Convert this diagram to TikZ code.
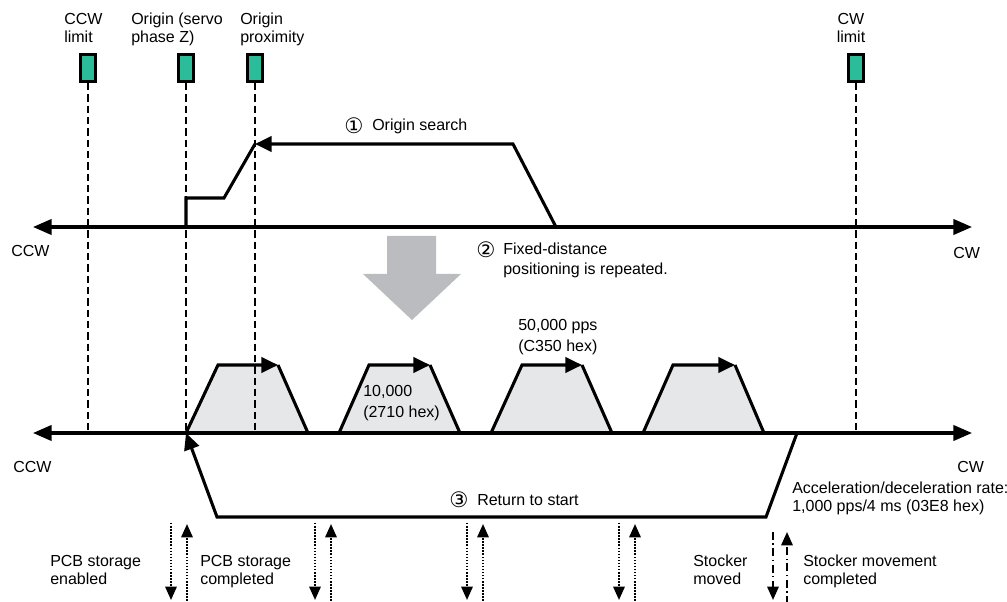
\documentclass[tikz,border=0pt]{standalone}
\usepackage{fontspec}
\setmainfont{Liberation Sans}
\newfontfamily\symfont{DejaVu Sans}
\usetikzlibrary{arrows.meta}
\definecolor{sensor}{HTML}{2BBD99}
\definecolor{bigarrow}{HTML}{BBBCBF}
\definecolor{trap}{HTML}{E6E7E8}
\newcommand\lefttab[1]{\begin{tabular}[t]{@{}l@{}}#1\end{tabular}}
\newcommand\centtab[1]{\begin{tabular}[t]{@{}c@{}}#1\end{tabular}}
\begin{document}
\begin{tikzpicture}[x=0.75pt,y=-0.75pt,
  lbl/.style={anchor=base west,inner sep=0pt,font=\fontsize{12}{13.5}\selectfont},
  circnum/.style={inner sep=0pt,font=\symfont\fontsize{16}{16}\selectfont},
  sensorbox/.style={draw,line width=1.9pt,fill=sensor,minimum width=11pt,minimum height=20.5pt,inner sep=0pt},
  limline/.style={line width=2.1pt,dash pattern=on 5.5pt off 3pt},
  axisline/.style={line width=2.3pt,{Triangle[length=14pt,width=11.5pt]}-{Triangle[length=14pt,width=11.5pt]}},
  prof/.style={line width=2.3pt,line join=miter},
  tip/.style={-{Triangle[length=12.5pt,width=11.5pt]}},
  sigdot/.style={line width=1.6pt,dash pattern=on 1.1pt off 1.2pt,-{Triangle[length=10pt,width=8.5pt]}},
  sigdd/.style={line width=1.6pt,dash pattern=on 6pt off 2.5pt on 1.2pt off 2.5pt,-{Triangle[length=10pt,width=8.5pt]}},
  trapfill/.style={fill=trap,draw=none}
]
\useasboundingbox (0,0) rectangle (1007,602);

% axes coordinates
\coordinate (uL) at (33,227);
\coordinate (uR) at (972,227);
\coordinate (lL) at (33,433);
\coordinate (lR) at (972,433);

% sensor boxes
\node[sensorbox] (ccwlim) at (88,68) {};
\node[sensorbox] (orig) at (186,68) {};
\node[sensorbox] (prox) at (255,68) {};
\node[sensorbox] (cwlim) at (856,68) {};

% sensor labels
\node[lbl] (tccw) at (64,25) {\lefttab{CCW\\limit}};
\node[lbl] (torig) at (131,25) {\lefttab{Origin (servo\\phase Z)}};
\node[lbl] (tprox) at (240,25) {\lefttab{Origin\\proximity}};
\node[lbl,anchor=base] (tcw) at (851,25) {\centtab{CW\\limit}};

% trapezoids (fills first)
\coordinate (a1) at (186,433); \coordinate (b1) at (218,365); \coordinate (c1) at (278,365); \coordinate (d1) at (308,433);
\coordinate (a2) at (339,433); \coordinate (b2) at (369,365); \coordinate (c2) at (430,365); \coordinate (d2) at (460,433);
\coordinate (a3) at (491,433); \coordinate (b3) at (522,365); \coordinate (c3) at (582,365); \coordinate (d3) at (612,433);
\coordinate (a4) at (643,433); \coordinate (b4) at (673,365); \coordinate (c4) at (735,365); \coordinate (d4) at (764,433);
\foreach \i in {1,2,3,4}{
  \fill[trapfill] (a\i) -- (b\i) -- (c\i) -- (d\i) -- cycle;
}

% big gray arrow
\fill[bigarrow] (387,236) -- (436,236) -- (436,274) -- (461,274) -- (412,320) -- (363,274) -- (387,274) -- cycle;

% dashed limit lines
\draw[limline] (ccwlim.south) -- (ccwlim.south |- lL);
\draw[limline] (orig.south) -- (orig.south |- lL);
\draw[limline] (prox.south) -- (prox.south |- lL);
\draw[limline] (cwlim.south) -- (cwlim.south |- lL);

% axes
\draw[axisline] (uL) -- (uR);
\draw[axisline] (lL) -- (lR);

% origin search profile
\coordinate (s0) at (556,227);
\coordinate (s1) at (513,144);
\coordinate (s2) at (255,144);
\coordinate (s3) at (224,198);
\coordinate (s4) at (186,198);
\coordinate (s5) at (186,227);
\draw[prof,tip] (s0) -- (s1) -- (s2);
\draw[prof] (s2) -- (s3) -- (s4) -- (s5);

% trapezoid outlines
\foreach \i in {1,2,3,4}{
  \draw[prof,tip] (a\i) -- (b\i) -- (c\i);
  \draw[prof] (c\i) -- (d\i);
}

% return to start
\coordinate (r0) at (797,433);
\coordinate (r1) at (766,517);
\coordinate (r2) at (217,517);
\draw[prof,tip] (r0) -- (r1) -- (r2) -- (a1);

% signal arrows
\foreach \x/\n in {171/1,315/2,467/3,619/4}{
  \coordinate (dn\n s) at (\x,523); \coordinate (dn\n e) at (\x,600);
  \coordinate (up\n s) at (\x+16,604); \coordinate (up\n e) at (\x+16,524);
  \draw[sigdot] (dn\n s) -- (dn\n e);
  \draw[sigdot] (up\n s) -- (up\n e);
}
\coordinate (stdns) at (773,532); \coordinate (stdne) at (773,600);
\coordinate (stups) at (787,604); \coordinate (stupe) at (787,532);
\draw[sigdd] (stdns) -- (stdne);
\draw[sigdd] (stups) -- (stupe);

% axis labels
\node[lbl] (uccw) at (11,257) {CCW};
\node[lbl] (ucw) at (953,259) {CW};
\node[lbl] (lccw) at (13,472) {CCW};
\node[lbl] (lcw) at (957,472) {CW};

% step labels
\node[circnum] (n1) at (354,125.5) {①};
\node[lbl] (t1) at (372,131) {Origin search};
\node[circnum] (n2) at (486,250) {②};
\node[lbl] (t2) at (503,255) {\lefttab{Fixed-distance\\[1pt]positioning is repeated.}};
\node[circnum] (n3) at (459,500) {③};
\node[lbl] (t3) at (477,505) {Return to start};

% speed labels
\node[lbl] (v1) at (518,331) {\lefttab{50,000 pps\\[2.25pt](C350 hex)}};
\node[lbl] (v2) at (363,397) {\lefttab{10,000\\[2.25pt](2710 hex)}};
\node[lbl] (acc) at (792,493) {\lefttab{Acceleration/deceleration rate:\\1,000 pps/4 ms (03E8 hex)}};

% bottom labels
\node[lbl] (pe) at (50,566) {\lefttab{PCB storage\\enabled}};
\node[lbl] (pc) at (200,566) {\lefttab{PCB storage\\completed}};
\node[lbl] (sm) at (693,566) {\lefttab{Stocker\\moved}};
\node[lbl] (smc) at (803,566) {\lefttab{Stocker movement\\completed}};
\end{tikzpicture}
\end{document}
